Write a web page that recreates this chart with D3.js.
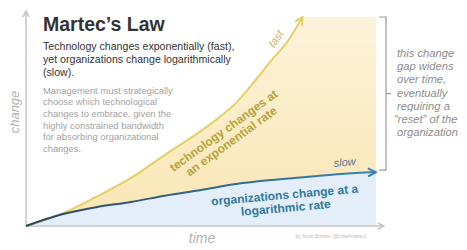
<!DOCTYPE html>
<html>
<head>
<meta charset="utf-8">
<script src="https://cdn.jsdelivr.net/npm/d3@7"></script>
<style>
  body { margin: 0; background: #fff; }
  svg { display: block; font-family: "Liberation Sans", Arial, sans-serif; }
</style>
</head>
<body>
<div id="chart"></div>
<script>
// time steps (0 = origin, 100 = right edge of shaded area)
var techTime = [0, 10, 20, 30, 40, 50, 60, 70, 75, 79];
var techChange = [0, 5.7, 13.9, 23, 34.4, 45.5, 58.9, 79, 89, 100];
var orgTime = [0, 10, 20, 30, 40, 50, 60, 70, 80, 90, 100];
var orgChange = [0, 5.5, 9, 11.5, 14.6, 17.2, 20.1, 22, 23.4, 24.9, 25.8];

var subtitleLines = ["Technology changes exponentially (fast),", "yet organizations change logarithmically", "(slow)."];
var noteLines = ["Management must strategically", "choose which technological", "changes to embrace, given the",
  "highly constrained bandwidth", "for absorbing organizational", "changes."];
var gapLines = ["this change", "gap widens", "over time,", "eventually", "requiring a", "\u201creset\u201d of the", "organization"];

var width = 467, height = 250;
var margin = { top: 17, right: 91, bottom: 24, left: 26 };

var svg = d3.select("#chart")
    .append("svg")
    .attr("width", width)
    .attr("height", height);

var x = d3.scaleLinear().domain([0, 100]).range([margin.left, width - margin.right]);
var y = d3.scaleLinear().domain([0, 100]).range([height - margin.bottom, margin.top]);

var tech = techTime.map(function (t, i) { return { t: t, v: techChange[i] }; });
var org = orgTime.map(function (t, i) { return { t: t, v: orgChange[i] }; });

var defs = svg.append("defs");
var grad = defs.append("linearGradient").attr("id", "ygrad")
    .attr("x1", 0).attr("y1", 0).attr("x2", 0).attr("y2", 1);
grad.append("stop").attr("offset", "0%").attr("stop-color", "#fdf2da");
grad.append("stop").attr("offset", "100%").attr("stop-color", "#fae6b4");

// blue line goes from dark navy to a brighter blue
var bgrad = defs.append("linearGradient").attr("id", "bgrad")
    .attr("gradientUnits", "userSpaceOnUse")
    .attr("x1", x(0)).attr("y1", 0).attr("x2", x(100)).attr("y2", 0);
bgrad.append("stop").attr("offset", "0%").attr("stop-color", "#2a4662");
bgrad.append("stop").attr("offset", "100%").attr("stop-color", "#3a82b5");

function marker(id, color) {
    defs.append("marker").attr("id", id)
        .attr("viewBox", "0 0 10 10").attr("refX", 9).attr("refY", 5)
        .attr("markerWidth", 5).attr("markerHeight", 5)
        .attr("orient", "auto")
        .append("path").attr("d", "M1,1 L9,5 L1,9")
        .attr("fill", "none").attr("stroke", color).attr("stroke-width", 2);
}
marker("arrY", "#e3d064");
marker("arrB", "#3a82b5");
marker("arrA", "#c4c4c4");

var line = d3.line()
    .x(function (d) { return x(d.t); })
    .y(function (d) { return y(d.v); })
    .curve(d3.curveMonotoneX);

// yellow gap area: tech curve, across the top, down to org end, back along org
var orgRev = org.slice().reverse();
var gapPts = tech.concat([{ t: 100, v: 100 }]).concat(orgRev);
svg.append("path")
    .attr("d", d3.line().x(function (d) { return x(d.t); }).y(function (d) { return y(d.v); })
        .curve(d3.curveLinear)(gapPts))
    .attr("fill", "url(#ygrad)");

// blue area under the org curve
svg.append("path")
    .datum(org)
    .attr("fill", "#e4eef9")
    .attr("d", d3.area()
        .x(function (d) { return x(d.t); })
        .y0(y(0))
        .y1(function (d) { return y(d.v); })
        .curve(d3.curveMonotoneX));

// axes
svg.append("line").attr("x1", x(0)).attr("y1", y(0)).attr("x2", x(0)).attr("y2", 11)
    .attr("stroke", "#c4c4c4").attr("stroke-width", 1.5).attr("marker-end", "url(#arrA)");
svg.append("line").attr("x1", x(0)).attr("y1", y(0)).attr("x2", 384).attr("y2", y(0))
    .attr("stroke", "#c4c4c4").attr("stroke-width", 1.5).attr("marker-end", "url(#arrA)");

// curves
svg.append("path").datum(tech).attr("d", line)
    .attr("fill", "none").attr("stroke", "#e3d064").attr("stroke-width", 2)
    .attr("marker-end", "url(#arrY)");
svg.append("path").datum(org).attr("d", line)
    .attr("fill", "none").attr("stroke", "url(#bgrad)").attr("stroke-width", 2)
    .attr("marker-end", "url(#arrB)");

// bracket
var bx = 386, bTop = y(100), bBot = y(orgChange[orgChange.length - 1]) - 2;
svg.append("path")
    .attr("d", "M" + (bx - 7) + "," + bTop + " H" + bx + " V" + bBot + " H" + (bx - 7)
        + " M" + bx + "," + ((bTop + bBot) / 2) + " H" + (bx + 5))
    .attr("fill", "none").attr("stroke", "#999").attr("stroke-width", 1.2);

// title and texts
svg.append("text").attr("x", 43).attr("y", 31)
    .attr("font-size", 19.5).attr("font-weight", "bold").attr("fill", "#333")
    .text("Martec\u2019s Law");

svg.append("g").selectAll("text").data(subtitleLines).enter().append("text")
    .attr("x", 43).attr("y", function (d, i) { return 50 + i * 13; })
    .attr("font-size", 10.6).attr("fill", "#333")
    .text(function (d) { return d; });

svg.append("g").selectAll("text").data(noteLines).enter().append("text")
    .attr("x", 43).attr("y", function (d, i) { return 93.5 + i * 11.7; })
    .attr("font-size", 9.4).attr("fill", "#a2a2a2")
    .text(function (d) { return d; });

svg.append("g").selectAll("text").data(gapLines).enter().append("text")
    .attr("x", function (d, i) { return i === 5 ? 394 : 397; })
    .attr("y", function (d, i) { return 57 + i * 13.2; })
    .attr("font-size", 11.2).attr("font-style", "italic")
    .attr("fill", "#8c8c8c")
    .text(function (d) { return d; });

// axis labels
svg.append("text").attr("transform", "translate(19,112) rotate(-90)")
    .attr("text-anchor", "middle").attr("font-size", 13).attr("font-style", "italic")
    .attr("fill", "#b0b0b0").text("change");
svg.append("text").attr("x", 202).attr("y", 243)
    .attr("text-anchor", "middle").attr("font-size", 14).attr("font-style", "italic")
    .attr("fill", "#b0b0b0").text("time");
svg.append("text").attr("x", 331).attr("y", 238)
    .attr("text-anchor", "middle").attr("font-size", 5).attr("fill", "#bbb")
    .text("by Scott Brinker (@chiefmartec)");

// curve labels
svg.append("text").attr("transform", "translate(279,41) rotate(-57)")
    .attr("text-anchor", "middle").attr("font-size", 11).attr("font-style", "italic")
    .attr("fill", "#c8b860").text("fast");
svg.append("text").attr("transform", "translate(345,166) rotate(-5)")
    .attr("text-anchor", "middle").attr("font-size", 11).attr("font-style", "italic")
    .attr("fill", "#4f7494").text("slow");

var techLbl = svg.append("text").attr("transform", "translate(226,134) rotate(-36)")
    .attr("text-anchor", "middle").attr("font-size", 12).attr("font-weight", "bold")
    .attr("fill", "#b9a23a");
techLbl.append("tspan").attr("x", 0).attr("dy", 0).text("technology changes at");
techLbl.append("tspan").attr("x", 0).attr("dy", 13).text("an exponential rate");

var orgLbl = svg.append("text").attr("transform", "translate(285,199) rotate(-5)")
    .attr("text-anchor", "middle").attr("font-size", 12).attr("font-weight", "bold")
    .attr("fill", "#2f7a9e");
orgLbl.append("tspan").attr("x", 0).attr("dy", 0).text("organizations change at a");
orgLbl.append("tspan").attr("x", 0).attr("dy", 13).text("logarithmic rate");
</script>
</body>
</html>
